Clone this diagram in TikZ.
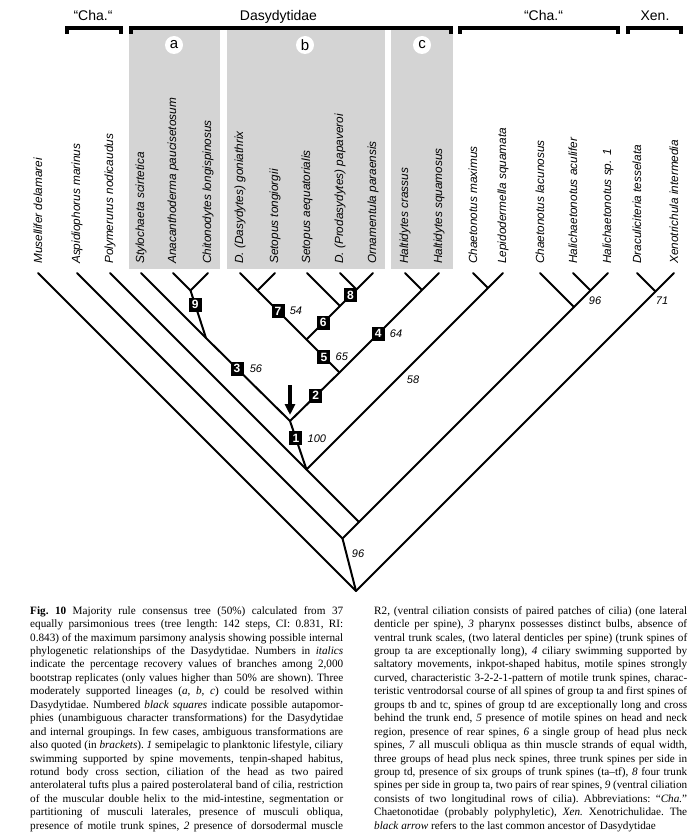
\documentclass[tikz,border=0pt]{standalone}
\usepackage{fontspec}
\setmainfont{Liberation Serif}
\newfontfamily\arialf{Liberation Sans}
\usetikzlibrary{arrows.meta,positioning}
\definecolor{boxgray}{RGB}{212,212,212}
\newcommand\CapLine[1]{\hbox to 313pt{#1}}
\begin{document}
\begin{tikzpicture}[x=1pt,y=-1pt,
  br/.style={line width=2pt, line join=round, line cap=round},
  tax/.style={rotate=90, anchor=west, inner sep=0pt, font=\fontsize{11.8}{12}\arialf\itshape},
  sq/.style={fill=black, text=white, minimum width=13pt, minimum height=14pt, inner sep=0pt, font=\fontsize{12}{12}\arialf\bfseries},
  bs/.style={font=\fontsize{11}{12}\arialf\itshape, inner sep=0pt},
  hdr/.style={font=\fontsize{14}{16}\arialf, anchor=base, inner sep=0pt},
  bracket/.style={line width=4pt, line join=miter},
  grp/.style={fill=boxgray, draw=none},
  circ/.style={circle, fill=white, minimum size=18pt, inner sep=0pt, font=\fontsize{15}{16}\arialf},
  captxt/.style={anchor=north west, inner sep=0pt, font=\fontsize{11.2}{13.44}\selectfont\frenchspacing}
]
\fill[white] (0,0) rectangle (698,837);
\useasboundingbox (0,0) rectangle (698,837);

% group boxes
\fill[grp] (129,29) rectangle (220,269);
\fill[grp] (227,29) rectangle (385,269);
\fill[grp] (391,29) rectangle (453,269);
\node[circ] (ca) at (174,45) {a};
\node[circ] (cb) at (305,45) {b};
\node[circ] (cc) at (422,45) {c};

% brackets and headers
\draw[bracket] (67,34) |- (121,28.5) -- (121,34);
\draw[bracket] (130.5,34) |- (451,28.5) -- (451,34);
\draw[bracket] (460,34) |- (618,28.5) -- (618,34);
\draw[bracket] (628,34) |- (681,28.5) -- (681,34);
\node[hdr] (h1) at (93,20.5) {“Cha.“};
\node[hdr] (h2) at (278.5,20.5) {Dasydytidae};
\node[hdr] (h3) at (543.5,20.5) {“Cha.“};
\node[hdr] (h4) at (655,20.5) {Xen.};

% taxon labels
\node[tax] (l1) at (38,264) {Musellifer delamarei};
\node[tax] (l2) at (77,264) {Aspidiophorus marinus};
\node[tax] (l3) at (110,264) {Polymerurus nodicaudus};
\node[tax] (l4) at (141,264) {Stylochaeta scirtetica};
\node[tax] (l5) at (173,264) {Anacanthoderma paucisetosum};
\node[tax] (l6) at (208,264) {Chitonodytes longispinosus};
\node[tax] (l7) at (240,264) {D. (Dasydytes) goniathrix};
\node[tax] (l8) at (275,264) {Setopus tongiorgii};
\node[tax] (l9) at (307,264) {Setopus aequatorialis};
\node[tax] (l10) at (340,264) {D. (Prodasydytes) papaveroi};
\node[tax] (l11) at (373,264) {Ornamentula paraensis};
\node[tax] (l12) at (405,264) {Haltidytes crassus};
\node[tax] (l13) at (439,264) {Haltidytes squamosus};
\node[tax] (l14) at (473,264) {Chaetonotus maximus};
\node[tax] (l15) at (503,264) {Lepidodermella squamata};
\node[tax] (l16) at (540,264) {Chaetonotus lacunosus};
\node[tax] (l17) at (573,264) {Halichaetonotus aculifer};
\node[tax] (l18) at (608,264) {Halichaetonotus sp. 1};
\node[tax] (l19) at (637,264) {Draculiciteria tesselata};
\node[tax] (l20) at (674,264) {Xenotrichula intermedia};

% tips
\foreach \i/\x in {1/38,2/77,3/110,4/141,5/173,6/208,7/240,8/275,9/307,10/340,11/373,12/405,13/439,14/473,15/503,16/540,17/573,18/608,19/637,20/674}
  \coordinate (t\i) at (\x,273);

% internal nodes
\coordinate (n56) at (190.5,290.5);
\coordinate (n78) at (257.5,290.5);
\coordinate (n1011) at (356.5,289.5);
\coordinate (n1213) at (422,290);
\coordinate (n1415) at (488,288);
\coordinate (n1718) at (590.5,290.5);
\coordinate (n1920) at (655.5,291.5);
\coordinate (nS9) at (340,306);
\coordinate (n6) at (306.5,339.5);
\coordinate (nbc) at (339.5,372.5);
\coordinate (nj9) at (206,338);
\coordinate (narr) at (290,421);
\coordinate (nd) at (306.5,469.5);
\coordinate (nlac) at (574,307);
\coordinate (n522) at (359,522);
\coordinate (n538) at (342.5,538.5);
\coordinate (root) at (356,591);

% branches
\draw[br] (t1) -- (root);
\draw[br] (t2) -- (n538);
\draw[br] (t3) -- (nd) -- (n522);
\draw[br] (t4) -- (nj9) -- node[sq, pos=0.37] (b3) {3} (narr);
\draw[br] (t5) -- (n56) -- (t6);
\draw[br] (n56) -- node[sq, pos=0.3] (b9) {9} (nj9);
\draw[br] (t7) -- (n78) -- (t8);
\draw[br] (n78) -- node[sq, pos=0.42] (b7) {7} (n6);
\draw[br] (t9) -- (nS9);
\draw[br] (t10) -- (n1011) -- (t11);
\draw[br] (n1011) -- node[sq, pos=0.36] (b8) {8} (nS9);
\draw[br] (nS9) -- node[sq, pos=0.5] (b6) {6} (n6);
\draw[br] (n6) -- node[sq, pos=0.53] (b5) {5} (nbc);
\draw[br] (t12) -- (n1213) -- (t13);
\draw[br] (n1213) -- node[sq, pos=0.53] (b4) {4} (nbc);
\draw[br] (narr) -- node[sq, pos=0.52] (b2) {2} (nbc);
\draw[br] (narr) -- node[sq, pos=0.36] (b1) {1} (nd);
\draw[br] (t14) -- (n1415) -- (t15);
\draw[br] (n1415) -- (nd);
\draw[br] (t16) -- (nlac);
\draw[br] (t17) -- (n1718) -- (t18);
\draw[br] (n1718) -- (nlac) -- (n522) -- (n538) -- (root);
\draw[br] (t19) -- (n1920) -- (t20);
\draw[br] (n1920) -- (root);

% bootstrap values
\node[bs, right=5pt of b3] (v56) {56};
\node[bs, right=4pt of b7] (v54) {54};
\node[bs, right=4pt of b5] (v65) {65};
\node[bs, right=4pt of b4] (v64) {64};
\node[bs, right=4pt of b1] (v100) {100};
\node[bs] (v58) at (413,380) {58};
\node[bs] (v96a) at (595,301) {96};
\node[bs] (v71) at (662,301) {71};
\node[bs] (v96b) at (358,554) {96};

% arrow
\coordinate (arrtop) at (290,385);
\coordinate (arrtip) at (290,415);
\draw[line width=4pt, -{Triangle[width=10pt,length=11pt]}] (arrtop) -- (arrtip);

% caption
\node[captxt] (capl) at (30,604.6) {\vtop{%
\CapLine{\strut\textbf{Fig. 10} Majority rule consensus tree (50\%) calculated from 37}
\CapLine{equally parsimonious trees (tree length: 142 steps, CI: 0.831, RI:}
\CapLine{0.843) of the maximum parsimony analysis showing possible internal}
\CapLine{phylogenetic relationships of the Dasydytidae. Numbers in \textit{italics}}
\CapLine{indicate the percentage recovery values of branches among 2,000}
\CapLine{bootstrap replicates (only values higher than 50\% are shown). Three}
\CapLine{moderately supported lineages (\textit{a}, \textit{b}, \textit{c}) could be resolved within}
\CapLine{Dasydytidae. Numbered \textit{black squares} indicate possible autapomor-}
\CapLine{phies (unambiguous character transformations) for the Dasydytidae}
\CapLine{and internal groupings. In few cases, ambiguous transformations are}
\CapLine{also quoted (in \textit{brackets}). \textit{1} semipelagic to planktonic lifestyle, ciliary}
\CapLine{swimming supported by spine movements, tenpin-shaped habitus,}
\CapLine{rotund body cross section, ciliation of the head as two paired}
\CapLine{anterolateral tufts plus a paired posterolateral band of cilia, restriction}
\CapLine{of the muscular double helix to the mid-intestine, segmentation or}
\CapLine{partitioning of musculi laterales, presence of musculi obliqua,}
\CapLine{presence of motile trunk spines, \textit{2} presence of dorsodermal muscle}}};
\node[captxt] (capr) at (374,604.6) {\vtop{%
\CapLine{\strut R2, (ventral ciliation consists of paired patches of cilia) (one lateral}
\CapLine{denticle per spine), \textit{3} pharynx possesses distinct bulbs, absence of}
\CapLine{ventral trunk scales, (two lateral denticles per spine) (trunk spines of}
\CapLine{group ta are exceptionally long), \textit{4} ciliary swimming supported by}
\CapLine{saltatory movements, inkpot-shaped habitus, motile spines strongly}
\CapLine{curved, characteristic 3-2-2-1-pattern of motile trunk spines, charac-}
\CapLine{teristic ventrodorsal course of all spines of group ta and first spines of}
\CapLine{groups tb and tc, spines of group td are exceptionally long and cross}
\CapLine{behind the trunk end, \textit{5} presence of motile spines on head and neck}
\CapLine{region, presence of rear spines, \textit{6} a single group of head plus neck}
\CapLine{spines, \textit{7} all musculi obliqua as thin muscle strands of equal width,}
\CapLine{three groups of head plus neck spines, three trunk spines per side in}
\CapLine{group td, presence of six groups of trunk spines (ta–tf), \textit{8} four trunk}
\CapLine{spines per side in group ta, two pairs of rear spines, \textit{9} (ventral ciliation}
\CapLine{consists of two longitudinal rows of cilia). Abbreviations: “\textit{Cha.}”}
\CapLine{Chaetonotidae (probably polyphyletic), \textit{Xen.} Xenotrichulidae. The}
\hbox{\textit{black arrow} refers to the last common ancestor of Dasydytidae}}};
\end{tikzpicture}
\end{document}
